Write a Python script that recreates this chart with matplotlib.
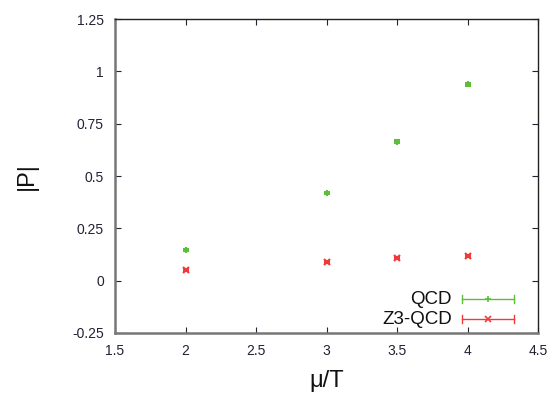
import matplotlib
matplotlib.use("Agg")
import matplotlib.pyplot as plt
from matplotlib.lines import Line2D

plt.rcParams['font.family'] = ['Liberation Sans', 'DejaVu Sans']

mu_qcd = [2.0, 3.0, 3.5, 4.0]
p_qcd = [0.148, 0.418, 0.663, 0.938]
err_qcd = [0.004, 0.006, 0.007, 0.007]

mu_z3 = [2.0, 3.0, 3.5, 4.0]
p_z3 = [0.052, 0.091, 0.107, 0.117]
err_z3 = [0.005, 0.005, 0.005, 0.006]

xticks = [1.5, 2, 2.5, 3, 3.5, 4, 4.5]
xticklabels = ["1.5", "2", "2.5", "3", "3.5", "4", "4.5"]
yticks = [-0.25, 0, 0.25, 0.5, 0.75, 1, 1.25]
yticklabels = ["-0.25", "0", "0.25", "0.5", "0.75", "1", "1.25"]

green = '#5cbf3a'
red = '#f03a3a'

fig = plt.figure(figsize=(5.58, 3.94), dpi=100)
ax = fig.add_axes([115/558, 1 - 333/394, (538-115)/558, (333-19)/394])

ax.errorbar(mu_qcd, p_qcd, yerr=err_qcd, fmt='+', color=green, ms=5, mew=1.5,
            elinewidth=1.0, capsize=2)
ax.errorbar(mu_z3, p_z3, yerr=err_z3, fmt='x', color=red, ms=4, mew=1.5,
            elinewidth=1.0, capsize=2)

ax.set_xlim(1.5, 4.5)
ax.set_ylim(-0.25, 1.25)
ax.set_xticks(xticks)
ax.set_xticklabels(xticklabels)
ax.set_yticks(yticks)
ax.set_yticklabels(yticklabels)
ax.tick_params(direction='in', top=True, right=True, length=4, labelsize=10,
               colors='#222233', pad=8)
for side in ['left', 'bottom']:
    ax.spines[side].set_color('#777777')
    ax.spines[side].set_linewidth(1.8)
for side in ['top', 'right']:
    ax.spines[side].set_color('#222222')
    ax.spines[side].set_linewidth(1.0)

fig.text(27/558, 1 - 176/394, '|P|', fontsize=17, ha='center', va='center',
         rotation=90, color='#111111')
fig.text(327/558, 1 - 381/394, 'μ/T', fontsize=17, ha='center', va='center',
         color='#111111')

# gnuplot-style key
entries = [("QCD", green, '+', 299), ("Z3-QCD", red, 'x', 319)]
for label, col, mk, ypix in entries:
    yf = 1 - ypix / 394
    x0, x1 = 462/558, 514/558
    fig.add_artist(Line2D([x0, x1], [yf, yf], color=col, lw=1.0))
    for xc in (x0, x1):
        fig.add_artist(Line2D([xc, xc], [yf - 4/394, yf + 4/394], color=col, lw=1.0))
    fig.add_artist(Line2D([(x0 + x1) / 2], [yf], color=col, marker=mk, ms=4, mew=1.2, lw=0))
    fig.text(452/558, yf, label, fontsize=13.5, ha='right', va='center', color='#111111')

fig.savefig('out.png', dpi=100)
